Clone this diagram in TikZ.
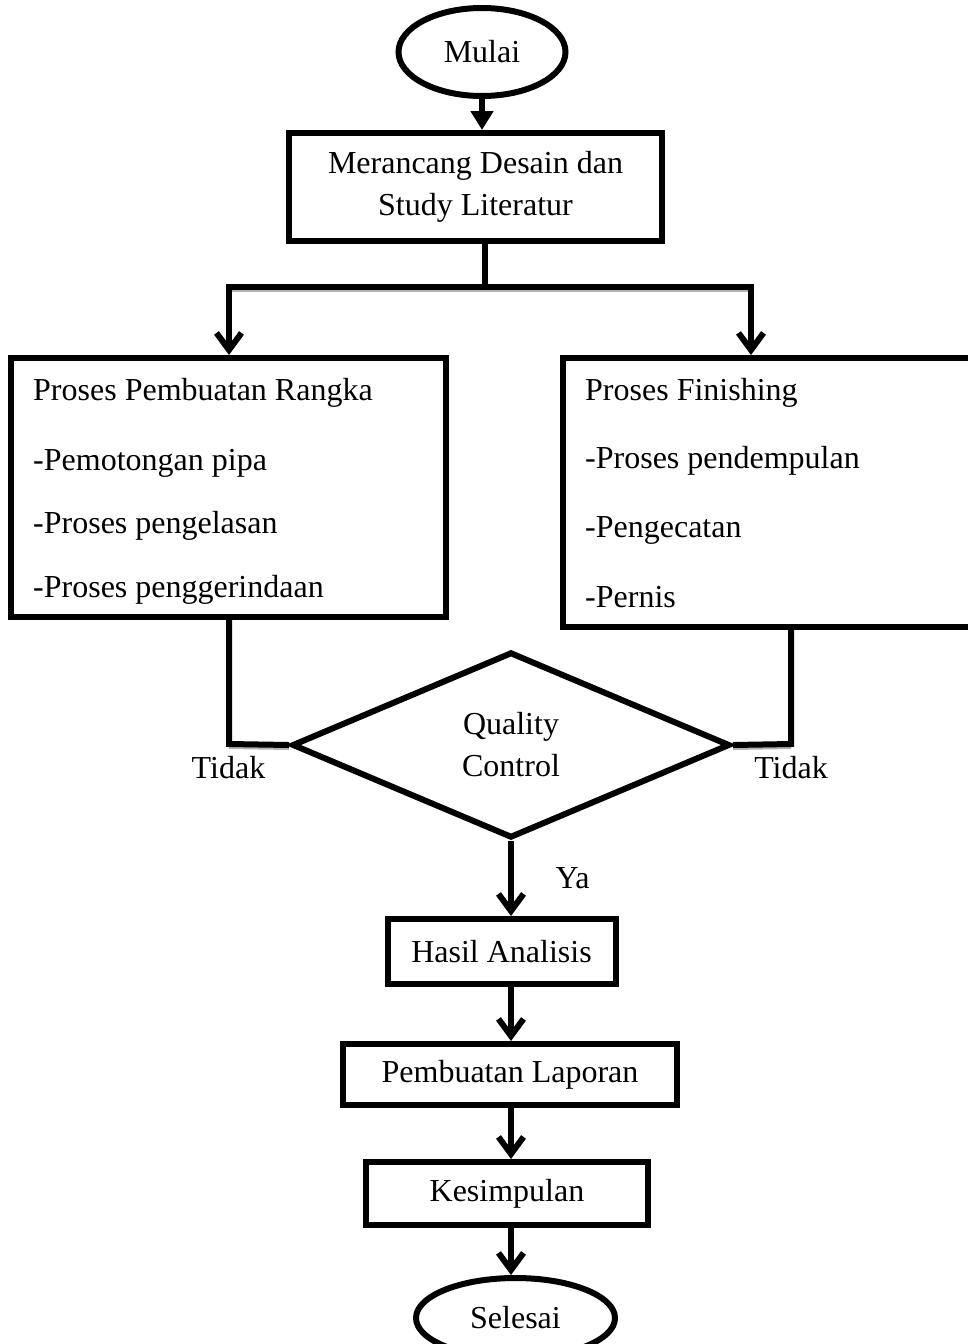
\documentclass[tikz,border=0pt]{standalone}
\usepackage{fontspec}
\setmainfont{Liberation Serif}
\usetikzlibrary{arrows.meta,shapes.geometric}

\begin{document}
\begin{tikzpicture}[x=1pt, y=-1pt,
  every node/.style={font=\fontsize{32}{42}\selectfont},
  box/.style={draw, line width=6pt, inner sep=0pt},
  term/.style={draw, ellipse, line width=6pt, inner sep=0pt},
  txt/.style={anchor=base west, inner sep=0pt},
  conn/.style={line width=6pt},
  tri/.style={conn, -{Triangle[length=19pt, width=22pt]}},
  barb/.style={conn, -{Straight Barb[length=17pt, width=25pt, line width=6pt]}},
  shade/.style={gray!60, line width=4pt}]
\useasboundingbox (0,0) rectangle (967,1344);
% Nodes
\node[term, minimum width=167pt, minimum height=88pt] (mulai) at (482,52) {Mulai};
\node[box, minimum width=373pt, minimum height=108pt, align=center] (desain) at (475.5,187) {Merancang Desain dan\\Study Literatur};
\node[box, minimum width=435pt, minimum height=259pt] (rangka) at (228.5,487.5) {};
\node[txt] (r0) at (33,400) {Proses Pembuatan Rangka};
\node[txt] (r1) at (33,470) {-Pemotongan pipa};
\node[txt] (r2) at (33,533) {-Proses pengelasan};
\node[txt] (r3) at (33,597) {-Proses penggerindaan};
\node[box, minimum width=412pt, minimum height=269pt] (finish) at (769,492.5) {};
\node[txt] (f0) at (585,400) {Proses Finishing};
\node[txt] (f1) at (585,468) {-Proses pendempulan};
\node[txt] (f2) at (585,537) {-Pengecatan};
\node[txt] (f3) at (585,607) {-Pernis};
\node[draw, diamond, aspect=2.4, line width=6pt, inner sep=0pt, minimum width=438pt, minimum height=186pt, align=center] (qc) at (511,745) {Quality\\Control};
\node[anchor=base] (tidakl) at (228.5,778) {Tidak};
\node[anchor=base] (tidakr) at (791,778) {Tidak};
\node[anchor=base west] (ya) at (552,888) {Ya};
\node[box, minimum width=228pt, minimum height=65pt] (hasil) at (501.5,951.5) {Hasil Analisis};
\node[box, minimum width=334pt, minimum height=61pt] (laporan) at (510,1074.5) {Pembuatan Laporan};
\node[box, minimum width=282pt, minimum height=63pt] (simpul) at (507,1193.5) {Kesimpulan};
\node[term, minimum width=199pt, minimum height=80pt] (selesai) at (515.5,1318) {Selesai};
% Connectors
\coordinate (split) at (485,287);
\coordinate (lcol) at (229,287);
\coordinate (rcol) at (751,287);
\coordinate (lbend) at (229,744);
\coordinate (rbend) at (791,744);
\coordinate (axis) at (511,0);
\draw[shade] ([yshift=-3pt]lcol) -- ([yshift=-3pt]rcol);
\draw[shade] ([yshift=-3pt]lbend) -- ([yshift=-3pt]qc.west);
\draw[shade] ([yshift=-3pt]qc.east) -- ([yshift=-3pt]rbend);
\draw[tri] (mulai.south) -- (mulai.south |- desain.north);
\draw[conn] (split |- desain.south) -- (split);
\draw[barb] (split) -| (lcol |- rangka.north);
\draw[barb] (split) -| (rcol |- finish.north);
\draw[conn] (lbend |- rangka.south) -- (lbend) -- (qc.west);
\draw[conn] (rbend |- finish.south) -- (rbend) -- (qc.east);
\draw[barb] (qc.south) -- (axis |- hasil.north);
\draw[barb] (axis |- hasil.south) -- (axis |- laporan.north);
\draw[barb] (axis |- laporan.south) -- (axis |- simpul.north);
\draw[barb] (axis |- simpul.south) -- (axis |- selesai.north);
\end{tikzpicture}
\end{document}
